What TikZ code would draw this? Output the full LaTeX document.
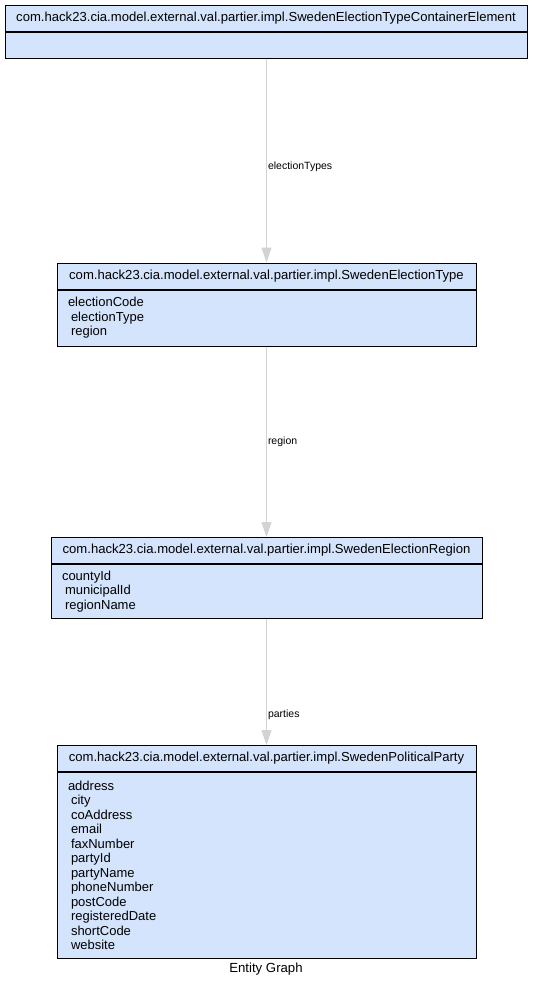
\documentclass[tikz,border=0pt]{standalone}
\usepackage{fontspec}
\setmainfont{Liberation Sans}
\usetikzlibrary{positioning,arrows.meta}
\definecolor{entityfill}{RGB}{212,228,252}
\definecolor{edgegray}{RGB}{211,211,211}
\tikzset{
  entityhead/.style={draw=black, line width=1pt, fill=entityfill, inner sep=0pt,
    minimum height=26, font=\fontsize{13.1}{14.5}\selectfont},
  entitybody/.style={draw=black, line width=1pt, fill=entityfill, inner ysep=0pt, inner xsep=11,
    align=left, font=\fontsize{13}{14.5}\selectfont},
  relation/.style={draw=edgegray, line width=1pt, -{Triangle[length=15,width=10]}, fill=edgegray},
  rellabel/.style={anchor=west, inner sep=0pt, text=black, font=\fontsize{10.5}{12}\selectfont}
}
\newcommand{\fld}{\hspace*{3pt}}
\begin{document}
\begin{tikzpicture}[x=1pt,y=-1pt]
\useasboundingbox (0,0) rectangle (533,989);

\node[entityhead, minimum width=522] (head1) at (266,18) {com.hack23.cia.model.external.val.partier.impl.SwedenElectionTypeContainerElement};
\node[entitybody, minimum width=522, minimum height=26, text width=500, below=0pt of head1] (body1) {};

\node[entityhead, minimum width=419] (head2) at (266.5,276) {com.hack23.cia.model.external.val.partier.impl.SwedenElectionType};
\node[entitybody, minimum width=419, minimum height=56, text width=397, below=0pt of head2] (body2) {electionCode\\ \fld electionType\\ \fld region};

\node[entityhead, minimum width=431] (head3) at (266.5,550.5) {com.hack23.cia.model.external.val.partier.impl.SwedenElectionRegion};
\node[entitybody, minimum width=431, minimum height=54, text width=409, below=0pt of head3] (body3) {countyId\\ \fld municipalId\\ \fld regionName};

\node[entityhead, minimum width=419] (head4) at (266.5,758.5) {com.hack23.cia.model.external.val.partier.impl.SwedenPoliticalParty};
\node[entitybody, minimum width=419, minimum height=186, text width=397, below=0pt of head4] (body4) {address\\ \fld city\\ \fld coAddress\\ \fld email\\ \fld faxNumber\\ \fld partyId\\ \fld partyName\\ \fld phoneNumber\\ \fld postCode\\ \fld registeredDate\\ \fld shortCode\\ \fld website};

\draw[relation] (body1.south -| 266.5,0) -- (head2.north) node[rellabel, pos=0.53, xshift=1] {electionTypes};
\draw[relation] (body2.south) -- (head3.north) node[rellabel, pos=0.5, xshift=1] {region};
\draw[relation] (body3.south) -- (head4.north) node[rellabel, pos=0.76, xshift=1] {parties};

\node[font=\fontsize{13.2}{15}\selectfont] (caption) at (266,969) {Entity Graph};
\end{tikzpicture}
\end{document}
